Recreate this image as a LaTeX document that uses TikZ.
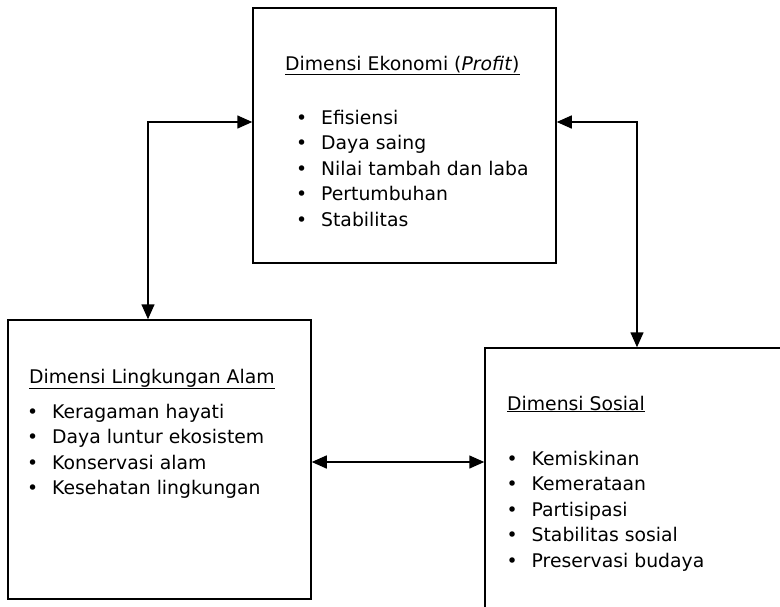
\documentclass[tikz,border=0pt]{standalone}
\usepackage{fontspec}
\setmainfont{DejaVu Sans}
\usetikzlibrary{arrows.meta, positioning, calc}
\newcommand{\dimitem}{\makebox[25pt][l]{\textbullet}}

\begin{document}
\begin{tikzpicture}[x=1pt, y=-1pt,
      dimbox/.style={draw=black, line width=1.5pt, minimum width=303pt,
                    inner sep=0pt},
      dimtitle/.style={font=\fontsize{18.8}{25.5}\selectfont, inner sep=0pt,
                    anchor=base west},
      dimlist/.style={font=\fontsize{18.8}{25.5}\selectfont, align=left,
                    inner sep=0pt, anchor=base west},
      arr/.style={{Triangle[length=15pt,width=13pt]}-{Triangle[length=15pt,width=13pt]},
                    line width=1.5pt}
    ]
      \useasboundingbox (0,0) rectangle (780,606);

      \node[dimbox, minimum height=255pt] (eko) at (404.5,135.5) {};
      \node[dimbox, minimum height=279pt] (ling) at (159.5,459.5) {};
      \node[dimbox, minimum width=330pt, minimum height=290pt] (sos) at (650,493) {};

      % list nodes sit on the baseline of their last line
      \node[dimtitle] (ekohead) at (285,70) {\underline{Dimensi Ekonomi (\textit{Profit})}};
      \node[dimlist] (ekolist) at (296,226) {\dimitem Efisiensi\\
        \dimitem Daya saing\\ \dimitem Nilai tambah dan laba\\
        \dimitem Pertumbuhan\\ \dimitem Stabilitas};

      \node[dimtitle] (linghead) at (29,383) {\underline{Dimensi Lingkungan Alam}};
      \node[dimlist] (linglist) at (27,494.5) {\dimitem Keragaman hayati\\
        \dimitem Daya luntur ekosistem\\ \dimitem Konservasi alam\\
        \dimitem Kesehatan lingkungan};

      \node[dimtitle] (soshead) at (507,410) {\underline{Dimensi Sosial}};
      \node[dimlist] (soslist) at (506.5,567) {\dimitem Kemiskinan\\
        \dimitem Kemerataan\\ \dimitem Partisipasi\\
        \dimitem Stabilitas sosial\\ \dimitem Preservasi budaya};

      \draw[arr] ([yshift=13.5pt]eko.west) -| ([xshift=-11.5pt]ling.north);
      \draw[arr] ([yshift=13.5pt]eko.east) -| ([xshift=-13pt]sos.north);
      \draw[arr] ([yshift=-2.5pt]ling.east) -- ([yshift=-2.5pt]ling.east -| sos.west);
    \end{tikzpicture}
\end{document}
